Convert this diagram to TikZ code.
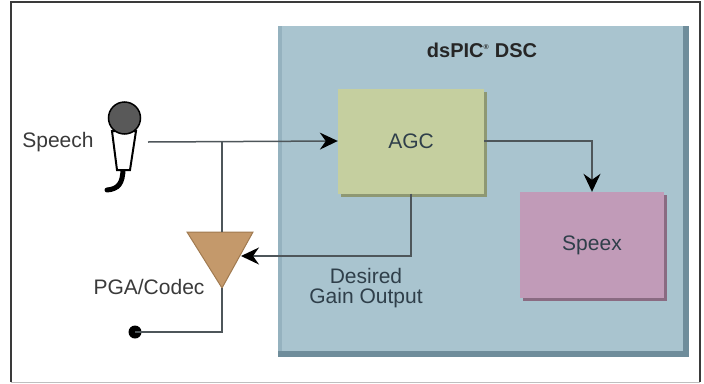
\documentclass[tikz,border=0pt]{standalone}
\usepackage{fontspec}
\setmainfont{Liberation Sans}
\usetikzlibrary{arrows.meta,shadows}
\definecolor{chipblue}{HTML}{A9C4CF}
\definecolor{chipshade}{HTML}{6F8D9B}
\definecolor{chipedge}{HTML}{95B2BF}
\definecolor{agcgreen}{HTML}{C5CF9F}
\definecolor{agcshade}{HTML}{8E9873}
\definecolor{speexpink}{HTML}{C19BB8}
\definecolor{speexshade}{HTML}{8A6B82}
\definecolor{pgatan}{HTML}{C4996B}
\definecolor{pgaedge}{HTML}{A07A50}
\definecolor{wire}{HTML}{4E565A}
\definecolor{slate}{HTML}{2F3F4A}
\definecolor{inktext}{HTML}{3A3A3A}
\begin{document}
\begin{tikzpicture}[x=1pt,y=-1pt,>={Stealth[length=18pt,width=17pt,inset=6pt,color=black]},
		every node/.style={font=\fontsize{21}{20}\selectfont},
		blockbox/.style={inner sep=0,text=slate},
		wireline/.style={wire,line width=1.5pt}]
				\useasboundingbox (0,0) rectangle (704,383);
				\draw[line width=2pt,inktext] (11,382)--(11,2)--(700,2)--(700,382);
				\draw[line width=1pt,gray!50] (11,382)--(700,382);
				% DSC chip
				\fill[chipshade] (278,26) rectangle (689,357);
				\fill[chipblue] (278,26) rectangle (683,351);
				\fill[chipedge] (278,26) rectangle (282,351);
				\node[font=\fontsize{20}{20}\selectfont\bfseries,text=black!85] (dsctitle) at (482,50) {dsPIC\textsuperscript{\scriptsize ®} DSC};
				% microphone
				\draw[line width=5pt,line cap=round] (123,168) .. controls (123,184) and (118,189) .. (107,190);
				\draw[line width=2pt,fill=white] (112,131)--(136,131)--(130,170)--(117,170)--cycle;
				\draw[line width=1.5pt,fill=black!65] (124.5,118) circle (16);
				\node[text=inktext] (speech) at (58,142) {Speech};
				\coordinate (micout) at (148,142);
				\coordinate (tap) at (222,142);
				% PGA triangle
				\coordinate (pgatop) at (222,232);
				\coordinate (pgabot) at (222,288);
				\coordinate (pgain) at (241,256);
				\draw[pgaedge,fill=pgatan,line width=1pt] (187,232)--(253,232)--(pgabot)--cycle;
				\node[text=inktext] (pgalabel) at (149,287) {PGA/Codec};
				\node[circle,fill=black,inner sep=0,minimum size=13] (dot) at (135,332) {};
				% blocks
				\node[blockbox,fill=agcgreen,minimum width=146,minimum height=105,
					drop shadow={shadow xshift=3pt,shadow yshift=-3pt,fill=agcshade,opacity=1}] (agc) at (411,141) {AGC};
				\node[blockbox,fill=speexpink,minimum width=144,minimum height=106,
					drop shadow={shadow xshift=3pt,shadow yshift=-3pt,fill=speexshade,opacity=1}] (speex) at (592,245) {Speex};
				\node[align=center,text=slate] (gainlabel) at (366,288) {Desired\\Gain Output};
				% connectors
				\draw[wireline,->] (micout)--(agc.west);
				\draw[wireline] (tap)--(pgatop);
				\draw[wireline,->] (agc.east)-|(speex.north);
				\draw[wireline,->] (agc.south)|-(pgain);
				\draw[wireline] (pgabot)|-(dot.center);
			\end{tikzpicture}
\end{document}
